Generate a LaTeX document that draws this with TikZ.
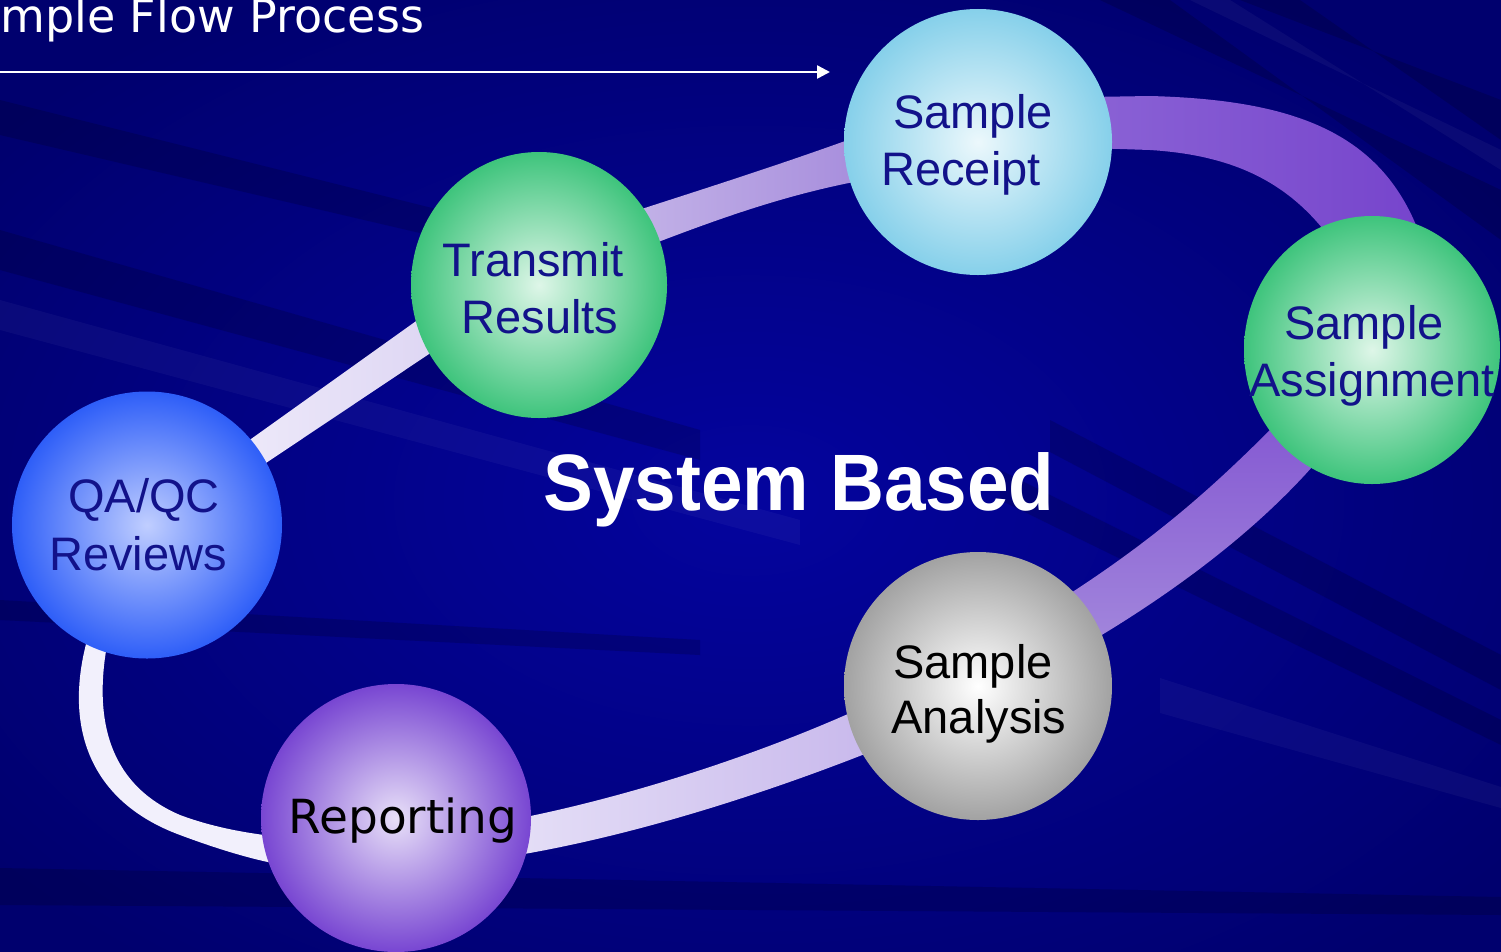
\documentclass[tikz,border=0pt]{standalone}
\usepackage{fontspec}
\setmainfont{Liberation Sans}
\newfontfamily\verd{DejaVu Sans}
\usetikzlibrary{shapes.geometric,arrows.meta}
\definecolor{bgC}{HTML}{04049E}
\definecolor{bgO}{HTML}{00006E}
\definecolor{navytxt}{HTML}{12128A}
\definecolor{rcOut}{HTML}{86D0EA}\definecolor{rcIn}{HTML}{ECF8FC}
\definecolor{grOut}{HTML}{3EC47C}\definecolor{grIn}{HTML}{DEF6E8}
\definecolor{qaOut}{HTML}{2E5EF8}\definecolor{qaIn}{HTML}{C0CEFF}
\definecolor{anOut}{HTML}{A2A2A2}\definecolor{anIn}{HTML}{FFFFFF}
\definecolor{rpOut}{HTML}{7846D2}\definecolor{rpIn}{HTML}{E8E0F8}
\definecolor{rA1}{HTML}{EEEAFA}\definecolor{rA2}{HTML}{DDD5F3}
\definecolor{rB1}{HTML}{C4B4E8}\definecolor{rB2}{HTML}{A68CDC}
\definecolor{rC1}{HTML}{8A62D5}\definecolor{rC2}{HTML}{7644CC}
\definecolor{rD1}{HTML}{8458D2}\definecolor{rD2}{HTML}{A286DC}
\definecolor{rE1}{HTML}{E6E0F7}\definecolor{rE2}{HTML}{C8B8EC}
\definecolor{rF}{HTML}{F2F0FC}
\begin{document}
\begin{tikzpicture}[x=1bp,y=-1bp,
  ball/.style={ellipse, draw=none, inner sep=0pt, minimum width=268bp, minimum height=266bp},
  lbl/.style={anchor=base, inner sep=0pt, font=\fontsize{47bp}{57bp}\selectfont},
  darkstreak/.style={fill=black, opacity=0.16},
  lightstreak/.style={fill=white, opacity=0.04}]
\useasboundingbox (0,0) rectangle (1501,951);
\clip (0,0) rectangle (1501,951);
% background
\shade[inner color=bgC, outer color=bgO] (-200,-100) rectangle (1700,1100);
\fill[darkstreak] (0,868) -- (1501,897) -- (1501,915) -- (0,905) -- cycle;
\fill[darkstreak] (1050,420) -- (1501,655) -- (1501,690) -- (1050,452) -- cycle;
\fill[darkstreak] (1000,470) -- (1501,720) -- (1501,745) -- (1000,500) -- cycle;
\fill[lightstreak] (1160,678) -- (1501,787) -- (1501,808) -- (1160,713) -- cycle;
\fill[darkstreak] (1100,0) -- (1170,0) -- (1501,240) -- (1501,190) -- cycle;
\fill[darkstreak] (1240,0) -- (1300,0) -- (1501,140) -- (1501,100) -- cycle;
\fill[lightstreak] (1190,0) -- (1230,0) -- (1501,170) -- (1501,150) -- cycle;
\fill[darkstreak] (0,230) -- (700,430) -- (700,460) -- (0,270) -- cycle;
\fill[darkstreak] (0,100) -- (600,250) -- (600,275) -- (0,135) -- cycle;
\fill[lightstreak] (0,300) -- (800,520) -- (800,545) -- (0,330) -- cycle;
\fill[darkstreak] (0,600) -- (700,640) -- (700,655) -- (0,620) -- cycle;
% title and arrow
\node[anchor=base west, inner sep=0pt, text=white, font=\verd\fontsize{46bp}{52bp}\selectfont] (title) at (0,32) {mple Flow Process};
\coordinate (arrS) at (0,72);
\coordinate (arrE) at (830,72);
\draw[white, line width=2.5bp, -{Triangle[length=13bp,width=13bp]}] (arrS) -- (arrE);
% ribbon pieces
\shade[left color=rA1, right color=rA2] (230,454) -- (440,304) -- (450,340) -- (245,477) -- cycle;
\shade[left color=rB1, right color=rB2] (620,216) .. controls (700,190) and (780,165) .. (870,132)
   -- (870,179) .. controls (790,193) and (720,218) .. (640,249) -- cycle;
\shade[left color=rC1, right color=rC2] (1090,97) -- (1150,96) .. controls (1300,100) and (1390,135) .. (1425,250)
   -- (1335,245) .. controls (1290,180) and (1230,155) .. (1150,150) -- (1090,148) -- cycle;
\shade[top color=rD1, bottom color=rD2] (1285,415) .. controls (1230,470) and (1170,530) .. (1060,600)
   -- (1085,645) .. controls (1170,595) and (1260,530) .. (1325,452) -- cycle;
\shade[left color=rE1, right color=rE2] (500,822) .. controls (620,800) and (760,755) .. (870,704)
   -- (880,748) .. controls (770,792) and (630,838) .. (500,858) -- cycle;
\fill[rF] (90,630) .. controls (62,720) and (85,800) .. (180,835) .. controls (220,850) and (260,862) .. (290,866)
   -- (290,838) .. controls (250,834) and (215,828) .. (180,815) .. controls (110,785) and (90,720) .. (110,630) -- cycle;
% circles
\node[ball, inner color=rcIn, outer color=rcOut] (receipt) at (978,142) {};
\node[ball, minimum width=256bp, inner color=grIn, outer color=grOut] (transmit) at (539,285) {};
\node[ball, minimum width=256bp, minimum height=268bp, inner color=grIn, outer color=grOut] (assign) at (1372,350) {};
\node[ball, minimum width=270bp, minimum height=267bp, inner color=qaIn, outer color=qaOut] (qaqc) at (147,525) {};
\node[ball, minimum height=268bp, inner color=anIn, outer color=anOut] (analysis) at (978,686) {};
\node[ball, minimum width=270bp, minimum height=268bp, inner color=rpIn, outer color=rpOut] (report) at (396,818) {};
% labels
\node[lbl, text=navytxt] (receiptA) at (973,128) {Sample};
\node[lbl, text=navytxt] (receiptB) at (961,185) {Receipt};
\node[lbl, text=navytxt] (transmitA) at (533,276) {Transmit};
\node[lbl, text=navytxt] (transmitB) at (540,333) {Results};
\node[lbl, text=navytxt] (assignA) at (1364,339) {Sample};
\node[lbl, text=navytxt] (assignB) at (1372,396) {Assignment};
\node[lbl, text=navytxt] (qaqcA) at (144,512) {QA/QC};
\node[lbl, text=navytxt] (qaqcB) at (138,570) {Reviews};
\node[lbl, text=black] (analysisA) at (973,678) {Sample};
\node[lbl, text=black] (analysisB) at (979,733) {Analysis};
\node[lbl, text=black, font=\verd\fontsize{47bp}{52bp}\selectfont] (reportA) at (403,833) {Reporting};
% centre text
\node[anchor=base, inner sep=0pt, text=white, font=\fontsize{80bp}{96bp}\selectfont\bfseries] (sysb) at (799,510) {\scalebox{0.934}[1]{System Based}};
\end{tikzpicture}
\end{document}
